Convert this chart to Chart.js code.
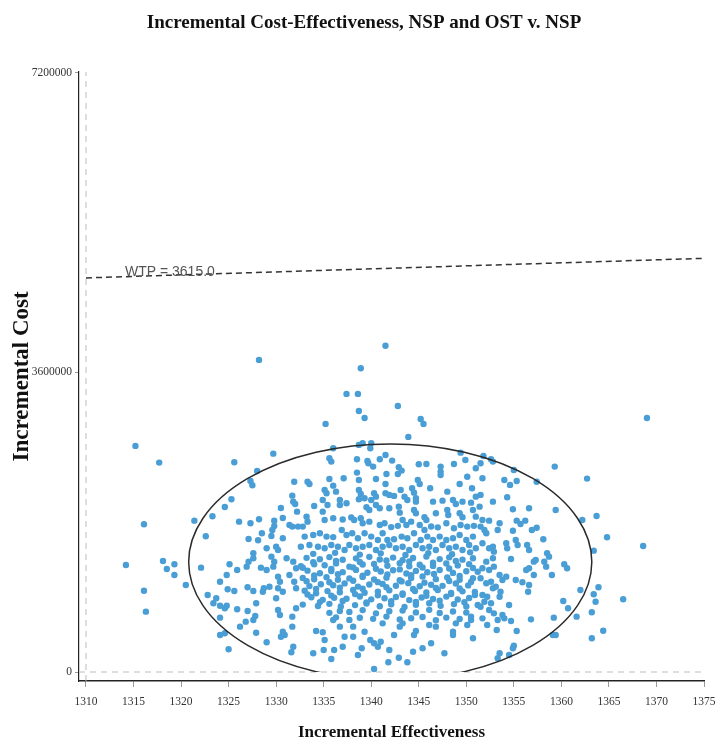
<!DOCTYPE html>
<html>
<head>
<meta charset="utf-8">
<script src="https://cdn.jsdelivr.net/npm/chart.js@4.4.0/dist/chart.umd.min.js"></script>
<style>
  html, body { margin: 0; padding: 0; background: #fff; }
</style>
</head>
<body>
<canvas id="graphic" width="715" height="743"></canvas>
<script>
// tick labels
const xTicks = [1310, 1315, 1320, 1325, 1330, 1335, 1340, 1345, 1350, 1355, 1360, 1365, 1370, 1375];
const yTicks = [0, 3600000, 7200000];

// willingness-to-pay threshold (cost per unit of effectiveness)
const wtp = 3615.0;

// 95% ellipse
const ellipseCenter = [1342.0, 1323000];
const ellipseRadius = [21.2, 1418000];

// simulated points: [incremental effectiveness, incremental cost in thousands]
const points = [
  [1341.5,3920],[1328.2,3750],[1338.9,3650],[1337.4,3342],[1338.6,3342],[1342.8,3197],[1338.7,3137],[1345.2,3041],[1345.5,2981],[1369.0,3053],[1339.3,3053],[1335.2,2981],[1343.9,2825],
  [1315.2,2717],[1317.7,2516],[1325.6,2521],[1329.7,2624],[1328.0,2416],[1327.3,2296],[1327.5,2244],[1331.9,2287],[1325.3,2076],[1324.6,1983],[1331.7,2119],[1331.8,2047],[1332.0,2019],[1330.5,1971],[1332.2,1927],
  [1316.1,1775],[1321.4,1819],[1323.3,1872],[1326.1,1807],[1327.3,1787],[1328.2,1835],[1329.8,1819],[1329.8,1755],[1329.6,1707],[1330.7,1851],[1331.4,1767],[1331.7,1747],[1332.3,1747],
  [1322.6,1631],[1327.1,1599],[1328.1,1583],[1328.5,1667],[1329.5,1635],[1330.7,1607],[1329.0,1487],[1330.0,1506],[1330.2,1466],[1327.6,1427],
  [1336.0,2689],[1338.7,2729],[1339.1,2749],[1340.0,2749],[1339.9,2689],[1349.4,2636],[1335.6,2569],[1335.8,2528],[1338.5,2557],[1339.6,2536],[1339.7,2509],[1340.9,2557],[1341.5,2608],[1342.2,2540],[1345.0,2497],[1345.8,2500],[1347.3,2468],[1347.3,2408],[1347.3,2368],[1348.7,2500],[1349.9,2548],[1351.0,2448],
  [1333.3,2287],[1333.5,2260],[1335.6,2320],[1336.0,2239],[1337.1,2328],[1338.5,2396],[1338.7,2308],[1340.2,2468],[1340.5,2320],[1341.6,2380],[1341.5,2260],[1342.8,2380],[1343.2,2420],[1342.9,2460],[1344.9,2308],[1345.1,2260],[1346.2,2208],[1348.0,2167],[1349.3,2260],[1350.1,2347],[1350.6,2208],
  [1335.1,2188],[1335.3,2148],[1334.9,2067],[1336.3,2167],[1338.7,2188],[1338.9,2140],[1338.7,2076],[1340.3,2148],[1340.5,2107],[1340.0,2067],[1341.5,2148],[1341.9,2128],[1342.4,2116],[1343.1,2188],[1343.5,2107],[1343.8,2067],[1344.3,2208],[1344.5,2155],[1344.7,2088],[1344.7,2047],[1346.5,2047],[1347.5,2059],[1348.6,2067],[1348.9,2019],[1349.6,2047],[1350.5,2035],[1351.0,2107],
  [1334.0,1995],[1335.4,2007],[1334.9,1927],[1335.1,1827],[1336.7,2067],[1336.7,2007],[1337.4,2028],[1339.3,2088],[1339.5,1980],[1339.8,1947],[1340.5,2007],[1340.9,1968],[1341.9,1968],[1342.9,1987],[1343.0,1915],[1344.5,1947],[1344.7,1908],[1345.6,1860],[1345.8,1827],[1346.8,1908],[1348.0,1947],[1348.1,1887],[1349.3,1908],[1349.6,1860],[1350.7,1947],[1351.0,1867],[1333.2,1867],[1333.3,1807],[1332.8,1747],
  [1336.0,1847],[1337.0,1832],[1337.9,1858],[1338.2,1827],[1338.9,1849],[1339.1,1787],[1339.8,1807],[1340.9,1767],[1341.4,1787],[1342.1,1741],[1342.8,1756],[1343.3,1827],[1343.7,1767],[1344.2,1807],[1345.1,1767],[1345.6,1707],[1346.3,1749],[1347.0,1738],[1347.9,1787],[1348.7,1727],[1349.4,1767],[1350.1,1747],[1350.8,1756],
  [1333.0,1627],[1333.9,1647],[1334.6,1667],[1335.3,1627],[1336.0,1621],[1336.9,1707],[1337.4,1647],[1338.0,1667],[1338.6,1607],[1339.3,1667],[1340.0,1627],[1340.7,1587],[1341.2,1667],[1341.7,1587],[1342.4,1596],[1343.2,1627],[1343.8,1607],[1344.5,1667],[1345.2,1587],[1345.9,1627],[1346.5,1587],[1347.2,1627],[1347.9,1587],[1348.6,1607],[1349.3,1647],[1350.0,1587],[1350.7,1627],
  [1332.6,1506],[1333.5,1527],[1334.4,1506],[1335.1,1487],[1335.8,1527],[1336.5,1506],[1337.2,1466],[1337.7,1527],[1338.4,1487],[1339.1,1506],[1339.8,1527],[1340.5,1466],[1341.2,1506],[1341.9,1527],[1342.6,1487],[1343.3,1506],[1344.0,1466],[1344.7,1527],[1345.4,1487],[1346.1,1506],[1346.8,1466],[1347.5,1527],[1348.2,1487],[1348.9,1506],[1349.6,1466],[1350.3,1527],[1351.0,1487],
  [1333.9,1420],[1336.2,1432],[1338.8,1411],[1341.0,1426],[1343.6,1407],[1346.0,1429],[1348.5,1415],[1350.4,1438],
  [1351.8,2596],[1352.6,2557],[1352.8,2528],[1351.5,2509],[1359.3,2468],[1362.7,2324],[1355.0,2428],[1351.7,2328],[1354.0,2308],[1354.6,2248],[1355.3,2296],[1357.4,2287],[1351.5,2128],[1354.3,2100],[1352.8,2047],[1351.4,1987],[1354.9,1956],[1356.6,1968],[1359.4,1947],[1362.2,1827],[1363.7,1875],
  [1351.7,1827],[1352.4,1819],[1353.5,1787],[1355.3,1819],[1355.7,1779],[1356.2,1819],[1351.5,1747],[1351.9,1707],[1352.1,1667],[1353.3,1707],[1354.9,1698],[1356.9,1707],[1357.4,1734],[1358.1,1595],[1364.8,1619],[1368.6,1515],[1363.4,1458],
  [1351.7,1547],[1352.4,1487],[1352.8,1506],[1352.9,1446],[1354.2,1547],[1354.3,1487],[1355.2,1587],[1355.4,1527],[1356.4,1527],[1356.6,1466],[1358.5,1427],
  [1314.2,1286],[1318.1,1334],[1318.5,1238],[1319.3,1295],[1319.3,1166],[1316.1,977],[1316.3,725],[1320.5,1046],[1322.1,1254],[1322.8,926],[1323.7,886],[1323.4,826],[1324.1,797],[1324.6,766],[1324.8,797],[1324.1,1085],[1324.8,1166],[1325.1,1295],[1325.9,1226],[1324.9,994],[1325.6,974],
  [1324.1,653],[1324.1,445],[1324.6,465],[1325.0,273],[1325.9,754],[1326.2,545],[1326.8,605],[1327.0,733],[1327.6,625],[1327.8,673],[1327.0,1018],[1327.6,974],[1326.9,1266],[1327.1,1326],[1327.6,1367],[1327.9,826],[1327.9,472],[1329.0,357],
  [1328.6,965],[1328.7,1006],[1329.3,1025],[1328.4,1254],[1329.0,1226],[1329.7,1266],[1329.8,1326],[1329.5,1386],[1330.2,1146],[1330.4,1085],[1330.2,1006],[1330.7,965],[1330.0,886],[1330.2,745],[1330.4,685],[1330.7,484],[1330.9,445],[1330.5,424],
  [1331.7,545],[1331.8,304],[1331.6,237],[1332.1,766],[1331.7,665],[1331.4,1166],[1331.9,1085],[1332.1,1006],[1331.1,1367],[1331.8,1326],[1332.1,1246],
  [1334.2,493],[1334.9,477],[1333.9,225],[1335.1,385],[1335.0,264],[1335.8,156],[1336.1,264],[1336.0,625],[1336.7,545],[1337.2,424],[1337.0,304],[1338.1,545],[1338.1,424],[1338.6,204],[1339.0,285],[1339.3,484],[1339.9,385],[1340.3,345],[1340.7,304],[1340.3,36],
  [1341.0,364],[1341.2,585],[1341.9,264],[1341.8,117],[1342.4,445],[1342.9,172],[1343.0,545],[1343.3,585],[1343.8,117],[1344.4,244],[1344.5,445],[1344.7,493],[1345.4,285],[1346.1,565],[1346.3,345],[1346.8,545],[1347.7,225],[1348.6,484],[1348.6,445],[1348.9,585],[1350.1,565],[1350.5,625],[1350.7,405],
  [1333.2,1372],[1334.6,1355],[1335.6,1381],[1337.0,1349],[1338.4,1366],[1339.8,1384],[1340.9,1352],[1342.3,1375],[1343.3,1344],[1344.4,1370],[1345.8,1388],[1347.2,1357],[1348.2,1378],[1349.6,1350],[1350.7,1367],
  [1332.6,1272],[1334.0,1295],[1335.1,1283],[1336.3,1305],[1337.7,1266],[1339.1,1292],[1340.3,1299],[1341.7,1277],[1343.0,1308],[1344.0,1270],[1345.1,1288],[1346.5,1275],[1347.9,1304],[1349.1,1281],[1350.3,1296],
  [1333.3,1218],[1334.6,1187],[1335.8,1213],[1337.0,1200],[1338.4,1227],[1339.6,1193],[1341.0,1207],[1342.3,1222],[1343.7,1184],[1344.7,1215],[1345.9,1198],[1347.2,1226],[1348.6,1191],[1350.0,1210],[1351.2,1204],
  [1332.8,1131],[1334.0,1114],[1335.3,1140],[1336.5,1108],[1337.7,1125],[1339.1,1143],[1340.3,1111],[1341.6,1134],[1343.0,1103],[1344.2,1129],[1345.4,1147],[1346.8,1116],[1348.0,1137],[1349.3,1109],[1350.7,1126],
  [1333.5,1032],[1334.7,1055],[1336.0,1043],[1337.2,1065],[1338.6,1026],[1339.8,1052],[1341.2,1059],[1342.6,1037],[1343.9,1068],[1345.1,1030],[1346.3,1048],[1347.5,1035],[1348.9,1064],[1350.2,1041],
  [1333.0,977],[1334.2,946],[1335.4,972],[1336.7,959],[1338.1,986],[1339.3,952],[1340.7,966],[1341.9,981],[1343.3,943],[1344.6,974],[1345.8,957],[1347.0,985],[1348.4,950],[1349.6,969],[1350.9,963],
  [1333.7,898],[1334.9,867],[1336.1,893],[1337.4,880],[1338.8,907],[1340.0,873],[1341.4,887],[1342.6,902],[1344.0,864],[1345.3,895],[1346.5,878],[1347.9,906],[1349.1,871],[1350.3,890],
  [1332.8,810],[1334.4,793],[1335.6,819],[1336.8,787],[1338.3,804],[1339.5,822],[1340.9,790],[1342.1,813],[1343.5,782],[1344.7,808],[1346.1,826],[1347.3,795],[1348.7,816],[1350.0,788],[1351.2,805],
  [1335.6,711],[1336.7,734],[1337.7,722],[1339.1,744],[1340.5,705],[1341.9,731],[1343.3,738],[1344.7,716],[1346.1,747],[1347.2,709],[1348.6,727],[1350.0,714],
  [1336.3,657],[1337.7,626],[1338.8,652],[1340.2,639],[1341.6,666],[1343.0,632],[1344.2,646],[1345.4,661],[1346.8,623],[1347.9,654],[1349.3,637],[1350.5,665],
  [1333.9,1318],[1336.3,1335],[1338.8,1322],[1341.6,1340],[1344.0,1329],[1346.5,1314],[1348.9,1333],
  [1332.8,1252],[1335.8,1238],[1338.1,1257],[1340.5,1241],[1343.0,1233],[1345.4,1255],[1348.2,1244],[1350.7,1249],
  [1334.0,1160],[1336.5,1175],[1339.1,1158],[1341.7,1171],[1344.2,1163],[1346.6,1179],[1349.3,1155],
  [1333.2,1091],[1335.6,1078],[1338.1,1096],[1340.7,1080],[1343.2,1089],[1345.6,1074],[1348.2,1093],[1350.5,1083],
  [1334.2,999],[1336.7,1014],[1339.1,1001],[1341.6,1018],[1344.4,997],[1346.8,1010],[1349.3,1004],
  [1333.3,932],[1335.8,918],[1338.3,936],[1340.7,921],[1343.3,929],[1345.8,915],[1348.4,938],[1350.9,924],
  [1334.6,840],[1337.0,853],[1339.5,836],[1342.1,851],[1344.7,842],[1347.2,857],[1349.8,838],
  [1354.7,1358],[1356.3,1226],[1356.6,1246],[1357.1,1326],[1357.3,1346],[1357.1,1166],[1358.2,1326],[1358.4,1266],[1358.7,1386],[1359.0,1166],[1360.3,1295],[1360.6,1246],
  [1362.0,986],[1363.9,1018],[1363.4,934],[1363.6,845],[1366.5,874],[1360.2,853],[1360.7,766],[1363.2,718],[1361.6,665],[1359.2,653],[1356.8,633],[1364.4,496],[1363.2,405],[1359.1,445],[1359.4,445],
  [1355.3,493],[1355.0,316],[1354.9,285],[1353.5,225],[1353.3,165],[1354.5,204],[1353.2,505],[1354.7,613],[1352.2,565],[1351.7,645],[1353.8,685],[1354.0,645],[1354.5,805],
  [1356.6,1046],[1356.5,965],[1355.2,1106],[1355.9,1078],[1353.5,1166],[1353.8,1106],[1354.2,1146],[1352.8,1006],[1353.1,1025],[1353.5,905],[1353.6,965],
  [1352.1,1326],[1352.8,1367],[1351.7,1246],[1352.4,1226],[1352.9,1266],[1351.5,1126],[1352.1,1066],[1352.6,1085],[1351.7,926],[1352.2,905],[1351.9,845],[1352.6,826],[1351.5,785],[1352.4,745],[1352.9,705],[1353.3,625]
];

const areaGraphic = document.getElementById('graphic');

const xMin = 1309.265;
const xMax = 1375;
const yMin = -108000;
const yMax = 7212000;

const serif = "'Liberation Serif', 'Times New Roman', serif";

const overlays = {
  id: 'overlays',
  afterDatasetsDraw(chart) {
    const {ctx, chartArea, scales: {x, y}} = chart;
    const cx = x.getPixelForValue(ellipseCenter[0]);
    const cy = y.getPixelForValue(ellipseCenter[1]);
    const rx = x.getPixelForValue(ellipseCenter[0] + ellipseRadius[0]) - cx;
    const ry = cy - y.getPixelForValue(ellipseCenter[1] + ellipseRadius[1]);
    const zero = y.getPixelForValue(0);

    ctx.save();
    ctx.beginPath();
    ctx.rect(chartArea.left, chartArea.top, chartArea.width, zero - chartArea.top);
    ctx.clip();
    ctx.beginPath();
    ctx.ellipse(cx, cy, rx, ry, 0, 0, Math.PI * 2);
    ctx.strokeStyle = '#2b2b2b';
    ctx.lineWidth = 1.5;
    ctx.stroke();
    ctx.restore();

    // WTP label sitting on the line
    const lx = 1314.1;
    ctx.save();
    ctx.font = "14px 'Liberation Sans', Arial, sans-serif";
    ctx.fillStyle = '#555';
    ctx.textBaseline = 'middle';
    ctx.fillText('WTP = ' + wtp.toFixed(1), x.getPixelForValue(lx), y.getPixelForValue(wtp * lx) - 5);
    ctx.restore();
  }
};

const data = {
  datasets: [
    {
      label: 'WTP',
      data: [{x: 1310, y: wtp * 1310}, {x: 1375, y: wtp * 1375}],
      showLine: true,
      borderColor: '#333',
      borderWidth: 1.5,
      borderDash: [6, 4],
      pointRadius: 0,
      order: 1
    },
    {
      label: 'Simulations',
      data: points.map(p => ({x: p[0], y: p[1] * 1000})),
      backgroundColor: '#4a9ed6',
      borderWidth: 0,
      pointRadius: 3.2,
      order: 2
    },
    {
      label: 'x0',
      data: [{x: 1310, y: yMin}, {x: 1310, y: yMax}],
      showLine: true,
      borderColor: '#bdbdbd',
      borderWidth: 1,
      borderDash: [6, 5],
      pointRadius: 0,
      order: 3
    },
    {
      label: 'y0',
      data: [{x: xMin, y: 0}, {x: xMax, y: 0}],
      showLine: true,
      borderColor: '#bdbdbd',
      borderWidth: 1,
      borderDash: [6, 5],
      pointRadius: 0,
      order: 3
    }
  ]
};

const config = {
  type: 'scatter',
  data,
  plugins: [overlays],
  options: {
    responsive: false,
    animation: false,
    devicePixelRatio: 1,
    layout: {
      padding: {left: 24, right: 11, top: 0, bottom: 0}
    },
    plugins: {
      legend: {display: false},
      tooltip: {enabled: false},
      title: {
        display: true,
        text: 'Incremental Cost-Effectiveness, NSP and OST v. NSP',
        color: '#111',
        font: {family: serif, size: 19, weight: 'bold'},
        padding: {top: 12, bottom: 37}
      }
    },
    scales: {
      x: {
        type: 'linear',
        min: xMin,
        max: xMax,
        afterBuildTicks: scale => { scale.ticks = xTicks.map(v => ({value: v})); },
        afterFit: scale => {
          scale.height = 62;
          scale.paddingLeft = 0;
          scale.paddingRight = 0;
        },
        ticks: {
          color: '#333',
          font: {family: serif, size: 11.5},
          padding: 8,
          maxRotation: 0,
          autoSkip: false,
          callback: v => String(v)
        },
        grid: {drawOnChartArea: false, drawTicks: true, tickLength: 6, color: '#999'},
        border: {display: true, color: '#222', width: 1.5},
        title: {
          display: true,
          text: 'Incremental Effectiveness',
          color: '#111',
          font: {family: serif, size: 17, weight: 'bold'},
          padding: {top: 0, bottom: 0}
        }
      },
      y: {
        type: 'linear',
        min: yMin,
        max: yMax,
        afterBuildTicks: scale => { scale.ticks = yTicks.map(v => ({value: v})); },
        afterFit: scale => { scale.width = 55; },
        ticks: {
          color: '#333',
          font: {family: serif, size: 11.5},
          padding: 3,
          autoSkip: false,
          callback: v => String(v)
        },
        grid: {drawOnChartArea: false, drawTicks: true, tickLength: 4, color: '#999'},
        border: {display: true, color: '#222', width: 1.2},
        title: {
          display: true,
          text: 'Incremental Cost',
          color: '#111',
          font: {family: serif, size: 23, weight: 'bold'},
          padding: {top: -16, bottom: 0}
        }
      }
    }
  }
};

const myGraphic = new Chart(areaGraphic, config);
</script>
</body>
</html>
